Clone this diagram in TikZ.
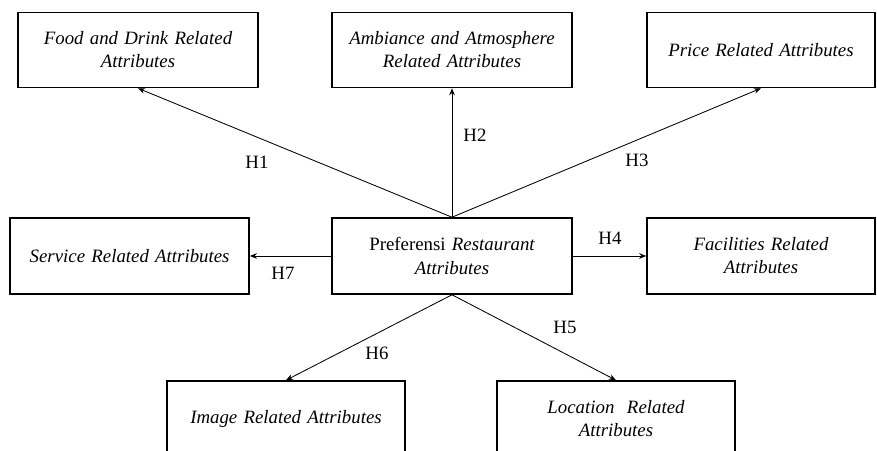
\documentclass[tikz,border=0pt]{standalone}
\usepackage{fontspec}
\setmainfont{Liberation Serif}
\usetikzlibrary{arrows.meta, positioning}
\tikzset{
    attr/.style={draw, line width=1.1pt, minimum height=1.9cm, text width=5.6cm, align=center, font=\fontsize{13.4}{16.4}\selectfont\itshape, inner sep=0pt},
    hyp/.style={-{Stealth[length=5pt, width=4pt]}, line width=0.6pt},
    hlabel/.style={font=\fontsize{13.4}{16}\selectfont}
}

\begin{document}
\begin{tikzpicture}
    \useasboundingbox (0,0) rectangle (21.925,11.25);
    \node[attr, minimum width=6cm] (pref) at (11.3,4.85) {\upshape Preferensi \itshape Restaurant\\Attributes};
    \node[attr, minimum width=6cm, minimum height=1.875cm] (food) at (3.45,10.0) {Food and Drink Related\\Attributes};
    \node[attr, minimum width=6cm, minimum height=1.875cm] (amb) at (11.3,10.0) {Ambiance and Atmosphere\\Related Attributes};
    \node[attr, minimum width=5.7cm, minimum height=1.875cm] (price) at (19.025,10.0) {Price Related Attributes};
    \node[attr, minimum width=5.975cm] (serv) at (3.24,4.85) {Service Related Attributes};
    \node[attr, minimum width=5.7cm] (fac) at (19.025,4.85) {Facilities Related\\Attributes};
    \node[attr, minimum width=5.95cm] (img) at (7.15,0.775) {Image Related Attributes};
    \node[attr, minimum width=5.95cm] (loc) at (15.4,0.775) {Location~ Related\\Attributes};

    \draw[hyp] (pref.north) -- (food.south);
    \draw[hyp] (pref.north) -- (amb.south);
    \draw[hyp] (pref.north) -- (price.south);
    \draw[hyp] (pref.east) -- (fac.west);
    \draw[hyp] (pref.south) -- (loc.north);
    \draw[hyp] (pref.south) -- (img.north);
    \draw[hyp] (pref.west) -- (serv.east);

    \node[hlabel] (h1) at (6.425,7.2) {H1};
    \node[hlabel] (h2) at (11.875,7.875) {H2};
    \node[hlabel] (h3) at (15.925,7.25) {H3};
    \node[hlabel] (h4) at (15.25,5.3) {H4};
    \node[hlabel] (h5) at (14.125,3.075) {H5};
    \node[hlabel] (h6) at (9.425,2.425) {H6};
    \node[hlabel] (h7) at (7.075,4.425) {H7};
\end{tikzpicture}
\end{document}
